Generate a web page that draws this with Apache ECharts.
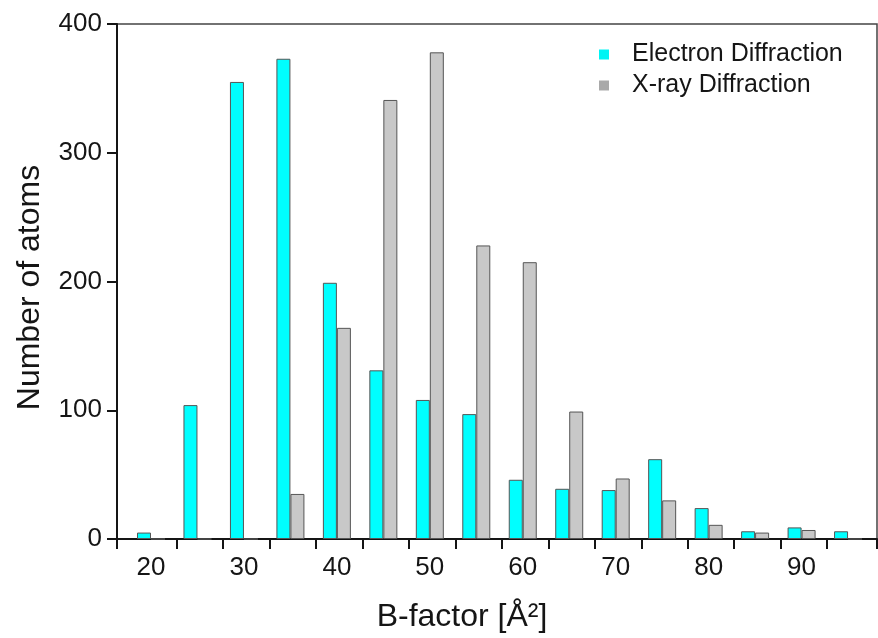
<!DOCTYPE html>
<html>
<head>
<meta charset="utf-8">
<script src="https://cdn.jsdelivr.net/npm/echarts@6/dist/echarts.min.js"></script>
<style>
  html, body { margin: 0; padding: 0; background: #fff; }
  #chart { width: 878px; height: 638px; }
</style>
</head>
<body>
<div id="chart"></div>
<script>
// ---- data ----
const bins = [20, 25, 30, 35, 40, 45, 50, 55, 60, 65, 70, 75, 80, 85, 90, 95];
const electron = [5, 104, 355, 373, 199, 131, 108, 97, 46, 39, 38, 62, 24, 6, 9, 6];
const xray = [0, 0, 0, 35, 164, 341, 378, 228, 215, 99, 47, 30, 11, 5, 7, 0];
const xLabelValues = [20, 30, 40, 50, 60, 70, 80, 90];
const xTickValues = [22.75, 27.75, 32.75, 37.75, 42.75, 47.75, 52.75, 57.75, 62.75, 67.75, 72.75, 77.75, 82.75, 87.75, 92.75];
const yTickValues = [0, 100, 200, 300, 400];
const seriesNames = ['Electron Diffraction', 'X-ray Diffraction'];
const xName = 'B-factor [Å²]';
const yName = 'Number of atoms';

// ---- chart ----
const FONT = '"Liberation Sans", Arial, Helvetica, sans-serif';
const xMin = 16.342, xMax = 98.115;
const chart = echarts.init(document.getElementById('chart'), null, { renderer: 'canvas' });

const option = {
  animation: false,
  backgroundColor: '#ffffff',
  textStyle: { fontFamily: FONT },
  grid: {
    left: 117, top: 24, right: 1, bottom: 96.5,
    show: true, borderColor: '#444', borderWidth: 1.5, backgroundColor: 'transparent'
  },
  legend: {
    orient: 'vertical',
    left: 599, top: 42,
    padding: 0,
    itemWidth: 10, itemHeight: 10, itemGap: 6,
    icon: 'rect',
    textStyle: { fontSize: 25, color: '#151515', fontFamily: FONT, padding: [0, 0, 0, 18] },
    data: [
      { name: seriesNames[0], itemStyle: { color: '#00f4f4', borderWidth: 0 } },
      { name: seriesNames[1], itemStyle: { color: '#a9a9a9', borderWidth: 0 } }
    ]
  },
  xAxis: {
    type: 'value',
    min: xMin, max: xMax,
    name: xName,
    nameLocation: 'middle',
    nameGap: 62,
    nameTextStyle: { fontSize: 32, color: '#151515', fontFamily: FONT, padding: [0, 70, 0, 0] },
    axisLine: { show: true, onZero: false, lineStyle: { color: '#151515', width: 2 } },
    axisTick: {
      show: true, length: 10,
      lineStyle: { color: '#151515', width: 2 },
      customValues: [xMin].concat(xTickValues, [xMax])
    },
    axisLabel: { fontSize: 26, color: '#151515', fontFamily: FONT, margin: 16, customValues: xLabelValues },
    splitLine: { show: false }
  },
  yAxis: {
    type: 'value',
    min: yTickValues[0], max: yTickValues[yTickValues.length - 1], interval: 100,
    name: yName,
    nameLocation: 'middle',
    nameGap: 71,
    nameRotate: 90,
    nameTextStyle: { fontSize: 32, color: '#151515', fontFamily: FONT, padding: [0, 12, 0, 0] },
    axisLine: { show: true, lineStyle: { color: '#151515', width: 2 } },
    axisTick: { show: true, length: 10, lineStyle: { color: '#151515', width: 2 } },
    axisLabel: { fontSize: 26, color: '#151515', fontFamily: FONT, margin: 15 },
    splitLine: { show: false }
  },
  series: [
    {
      name: seriesNames[0], type: 'bar',
      data: bins.map((b, i) => [b, electron[i]]),
      barWidth: 14, barGap: '0%',
      itemStyle: { color: '#00ffff', borderColor: '#555', borderWidth: 1 }
    },
    {
      name: seriesNames[1], type: 'bar',
      data: bins.map((b, i) => [b, xray[i]]),
      barWidth: 14, barGap: '0%',
      itemStyle: { color: '#c8c8c8', borderColor: '#555', borderWidth: 1 }
    }
  ]
};
chart.setOption(option);
</script>
</body>
</html>
